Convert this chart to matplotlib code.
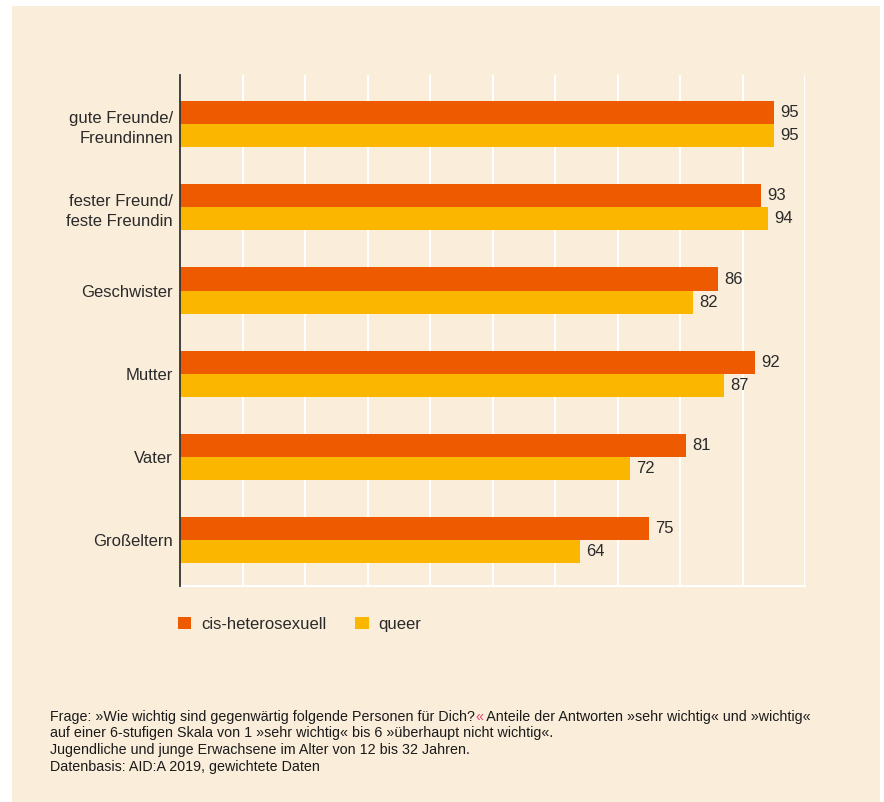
import matplotlib
matplotlib.use("Agg")
import matplotlib.pyplot as plt
from matplotlib.patches import Rectangle
import numpy as np

categories = ["gute Freunde/\nFreundinnen", "fester Freund/\nfeste Freundin", "Geschwister",
              "Mutter", "Vater", "Großeltern"]
cis_hetero = [95, 93, 86, 92, 81, 75]
queer = [95, 94, 82, 87, 72, 64]
series_names = ["cis-heterosexuell", "queer"]
xticks = list(range(0, 101, 10))

BG = "#FAEDDA"
ORANGE = "#EE5A00"
YELLOW = "#FBB600"
TXT = "#2a2a2a"

plt.rcParams['font.family'] = ['Liberation Sans', 'DejaVu Sans']

fig = plt.figure(figsize=(8.84, 8.02), dpi=100)
fig.patch.set_facecolor("white")
fig.patches.append(Rectangle((12/884, 0), (880-12)/884, (802-6)/802,
                             transform=fig.transFigure, facecolor=BG, edgecolor="none", zorder=-10))

ax = fig.add_axes([180/884, (802-586)/802, 625/884, (586-75)/802])
ax.set_facecolor(BG)

y = np.arange(len(categories))
h = 0.277
ax.barh(y - h/2, cis_hetero, height=h, color=ORANGE, zorder=3, label=series_names[0])
ax.barh(y + h/2, queer, height=h, color=YELLOW, zorder=3, label=series_names[1])

for yi, v in zip(y, cis_hetero):
    ax.text(v + 1.0, yi - h/2, str(v), va="center", ha="left", fontsize=12, color=TXT)
for yi, v in zip(y, queer):
    ax.text(v + 1.0, yi + h/2, str(v), va="center", ha="left", fontsize=12, color=TXT)

ax.set_xlim(0, 100)
ax.set_ylim(5.55, -0.59)
ax.set_xticks(xticks)
ax.set_xticklabels([])
ax.tick_params(axis="x", length=0)
ax.set_yticks(y)
ax.set_yticklabels(categories, fontsize=12, color=TXT, linespacing=1.45)
ax.tick_params(axis="y", length=0, pad=5)
ax.grid(axis="x", color="white", linewidth=1.5, zorder=0)
for s in ["top", "right"]:
    ax.spines[s].set_visible(False)
ax.spines["bottom"].set_color("white")
ax.spines["bottom"].set_linewidth(1.5)
ax.spines["left"].set_color("#333333")
ax.spines["left"].set_linewidth(1.3)
ax.spines["left"].set_zorder(5)

leg = ax.legend(loc="upper left", bbox_to_anchor=(-0.004, -0.06), ncol=2, frameon=False,
                fontsize=12, handlelength=0.8, handleheight=0.8, handletextpad=0.6,
                columnspacing=1.75, borderaxespad=0, borderpad=0)
for t in leg.get_texts():
    t.set_color(TXT)

fs = 10.3
x0 = 50/884
y0 = 1 - 717/802
t1 = fig.text(x0, y0, "Frage: »Wie wichtig sind gegenwärtig folgende Personen für Dich?",
              fontsize=fs, color="#1a1a1a", va="center", ha="left")
t2 = ax.annotate("«", xy=(1, 0.5), xycoords=t1, va="center", ha="left",
                 fontsize=fs, color="#E8417E")
t3 = ax.annotate(" Anteile der Antworten »sehr wichtig« und »wichtig«", xy=(1, 0.5), xycoords=t2,
                 va="center", ha="left", fontsize=fs, color="#1a1a1a")
rest = ("auf einer 6-stufigen Skala von 1 »sehr wichtig« bis 6 »überhaupt nicht wichtig«.\n"
        "Jugendliche und junge Erwachsene im Alter von 12 bis 32 Jahren.\n"
        "Datenbasis: AID:A 2019, gewichtete Daten")
fig.text(x0, 1 - 726/802, rest, fontsize=fs, color="#1a1a1a", va="top", ha="left", linespacing=1.27)

fig.savefig("out.png", dpi=100, facecolor=fig.get_facecolor())
